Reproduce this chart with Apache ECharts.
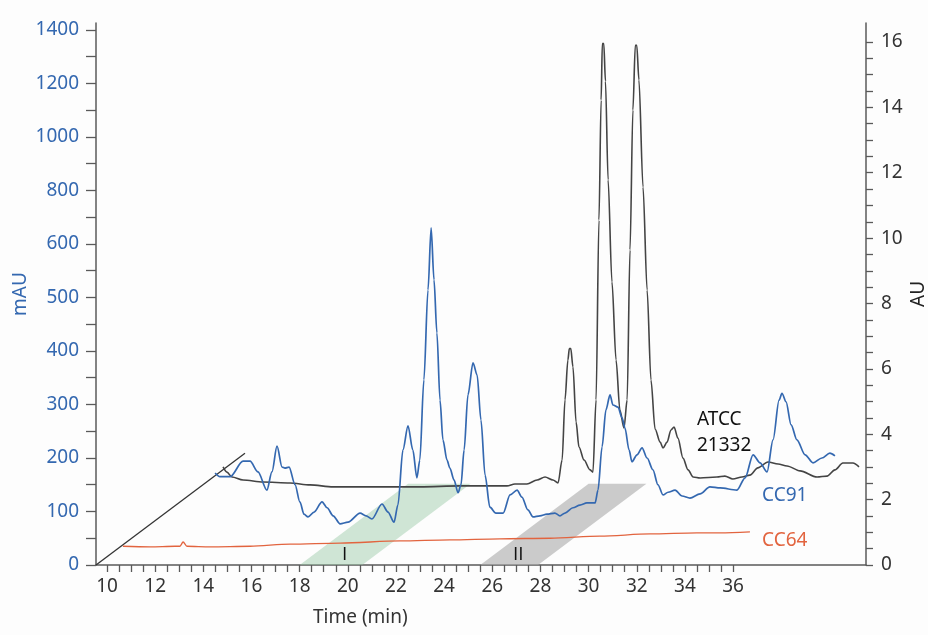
<!DOCTYPE html>
<html lang="en">
<head>
	<meta charset="UTF-8">
	<title>Chromatograms CC64 / CC91 / ATCC 21332</title>
	<script src="https://cdn.jsdelivr.net/npm/echarts@6/dist/echarts.min.js"></script>
	<style>
		html, body { margin: 0; padding: 0; background: #fdfdfd; }
	</style>
</head>
<body>
	<div id="main" style="width: 928px;height:635px;"></div>

	<script>
		// time ticks (min)
		var timeLabels = [10, 12, 14, 16, 18, 20, 22, 24, 26, 28, 30, 32, 34, 36];
		// left axis labels (mAU), axis is compressed 2x above 600
		var mauLabels = [0, 100, 200, 300, 400, 500, 600, 800, 1000, 1200, 1400];
		var auLabels = [0, 2, 4, 6, 8, 10, 12, 14, 16];

		// CC64 trace [time, mAU]
		var cc64 = [[10.66, 35], [11.79, 34], [12.82, 35], [13.03, 35], [13.16, 43], [13.32, 35],
			[14.28, 34], [15.94, 35], [17.6, 39], [19.68, 41], [22.17, 45], [24.24, 47],
			[26.32, 49], [28.4, 50], [30.47, 54], [32.55, 58], [34.5, 60], [35.46, 60], [36.7, 62]];

		// CC91 trace [time, mAU]
		var cc91 = [[14.49, 172], [14.69, 165], [15.11, 165], [15.65, 194], [15.94, 194], [16.27, 174],
			[16.64, 140], [16.85, 174], [17.06, 222], [17.27, 183], [17.39, 181], [17.56, 183],
			[17.81, 150], [18.01, 118], [18.18, 95], [18.35, 90], [18.6, 99], [18.93, 118],
			[19.14, 107], [19.39, 92], [19.68, 77], [20.01, 80], [20.51, 97], [20.76, 92],
			[21.0, 86], [21.42, 114], [21.67, 99], [21.92, 80], [22.08, 112], [22.29, 215],
			[22.5, 260], [22.7, 215], [22.87, 163], [22.99, 196], [23.16, 346], [23.33, 514],
			[23.46, 660], [23.58, 533], [23.7, 434], [23.83, 308], [23.95, 234], [24.12, 196],
			[24.24, 181], [24.41, 159], [24.58, 135], [24.7, 150], [24.83, 215], [24.99, 318],
			[25.2, 378], [25.37, 355], [25.53, 271], [25.7, 168], [25.9, 108], [26.15, 97],
			[26.45, 97], [26.74, 131], [27.03, 140], [27.23, 127], [27.48, 103], [27.69, 90],
			[27.98, 92], [28.27, 95], [28.6, 97], [28.81, 92], [29.02, 97], [29.35, 107],
			[29.64, 112], [29.93, 116], [30.27, 116], [30.39, 140], [30.56, 221], [30.72, 290],
			[30.89, 318], [31.01, 299], [31.22, 295], [31.39, 275], [31.51, 256], [31.68, 215],
			[31.8, 193], [32.01, 206], [32.22, 219], [32.43, 200], [32.67, 178], [32.88, 150],
			[33.09, 131], [33.3, 136], [33.59, 140], [33.88, 129], [34.21, 125], [34.63, 133],
			[35.04, 146], [35.46, 144], [36.16, 140], [36.5, 163], [36.83, 206], [37.12, 191],
			[37.41, 174], [37.66, 234], [37.91, 308], [38.03, 321], [38.2, 305], [38.41, 262],
			[38.65, 234], [38.99, 206], [39.32, 191], [39.69, 200], [40.02, 209], [40.23, 204]];

		// ATCC 21332 trace [time, AU]
		var atcc = [[14.82, 3.0], [14.98, 2.84], [15.19, 2.69], [15.65, 2.6], [16.48, 2.54], [17.6, 2.51],
			[18.43, 2.45], [19.39, 2.39], [21.34, 2.39], [23.0, 2.39], [24.66, 2.42], [26.32, 2.42],
			[26.61, 2.42], [26.94, 2.48], [27.44, 2.48], [27.86, 2.6], [28.19, 2.69], [28.52, 2.6],
			[28.73, 2.51], [28.9, 3.21], [29.02, 5.05], [29.14, 6.27], [29.2, 6.62], [29.26, 6.62],
			[29.35, 6.06], [29.48, 4.37], [29.6, 3.61], [29.81, 3.21], [30.06, 2.91], [30.18, 2.84],
			[30.31, 5.05], [30.43, 10.55], [30.52, 14.22], [30.57, 15.95], [30.63, 15.95], [30.7, 14.8],
			[30.81, 11.78], [30.97, 8.66], [31.14, 6.27], [31.3, 4.74], [31.47, 4.19], [31.6, 5.05],
			[31.72, 9.64], [31.84, 13.92], [31.94, 15.9], [32.0, 15.9], [32.09, 14.84], [32.26, 11.56],
			[32.43, 8.41], [32.59, 5.66], [32.76, 4.16], [32.97, 3.76], [33.09, 3.58], [33.26, 3.76],
			[33.42, 4.13], [33.55, 4.22], [33.71, 3.88], [33.92, 3.27], [34.13, 2.91], [34.34, 2.69],
			[34.63, 2.66], [35.33, 2.69], [35.66, 2.72], [35.99, 2.63], [36.37, 2.69], [36.7, 2.75],
			[37.03, 2.97], [37.45, 3.15], [37.87, 3.09], [38.24, 3.03], [38.78, 2.88], [39.49, 2.69],
			[39.9, 2.72], [40.23, 2.91], [40.56, 3.12], [40.98, 3.12], [41.23, 3.0]];

		// depth guide line [time, mAU]
		var depthLine = [[9.543, 0], [15.73, 209]];
		// shaded fractions I and II: [start, end] of time window at the front
		var fractions = [[18.0, 20.6], [25.5, 27.9]];
		// shift of the back edge: [time, mAU]
		var depthShift = [4.5, 152];

		var FONT = "'Noto Sans', sans-serif";
		var BLUE = '#3468b0';
		var ORANGE = '#e2643f';
		var AXIS = '#5a5a5a';

		function toDisplay(v) {
			return v <= 600 ? v : 600 + (v - 600) / 2;
		}
		function toReal(d) {
			return Math.round(d <= 600 ? d : 600 + (d - 600) * 2);
		}
		function steps(a, b, s) {
			var out = [];
			for (var v = a; v <= b + 1e-9; v += s) out.push(Math.round(v * 100) / 100);
			return out;
		}
		function label(text, x, y, color, lineHeight, family) {
			return {
				type: 'text', x: x, y: y, z: 10,
				style: { text: text, fontFamily: family || 'Noto Sans', fontSize: 19, fill: color, lineHeight: lineHeight || 24 }
			};
		}

		var mainChart = echarts.init(document.getElementById('main'));

		var option = {
			backgroundColor: '#fdfdfd',
			animation: false,
			grid: { left: 96, right: 62, top: 23, bottom: 70, outerBoundsMode: 'none', containLabel: false },
			xAxis: {
				type: 'value',
				min: 9.543,
				max: 41.52,
				splitLine: { show: false },
				axisLine: { lineStyle: { color: AXIS, width: 1.5 } },
				axisTick: { customValues: steps(10, 36, 0.5), length: 7, lineStyle: { color: AXIS, width: 1.3 } },
				axisLabel: { customValues: timeLabels, color: '#333', fontSize: 19, fontFamily: FONT, margin: 12 }
			},
			yAxis: [
				{
					type: 'value',
					min: 0,
					max: 1013,
					position: 'left',
					name: 'mAU',
					nameLocation: 'middle',
					nameRotate: 90,
					nameGap: 66,
					nameMoveOverlap: false,
					nameTextStyle: { color: BLUE, fontSize: 19, fontFamily: FONT },
					splitLine: { show: false },
					axisLine: { show: true, lineStyle: { color: AXIS, width: 1.5 } },
					axisTick: { show: true, customValues: steps(0, 1000, 50), length: 10, lineStyle: { color: AXIS, width: 1.3 } },
					axisLabel: {
						customValues: mauLabels.map(toDisplay),
						formatter: function (v) { return String(toReal(v)); },
						color: BLUE, fontSize: 19, fontFamily: FONT, margin: 17
					}
				},
				{
					type: 'value',
					min: 0,
					max: 16.58,
					position: 'right',
					name: 'AU',
					nameLocation: 'middle',
					nameRotate: 90,
					nameGap: 43,
					nameMoveOverlap: false,
					nameTextStyle: { color: '#222', fontSize: 19, fontFamily: FONT },
					splitLine: { show: false },
					axisLine: { show: true, lineStyle: { color: AXIS, width: 1.5 } },
					axisTick: { show: true, customValues: steps(0, 16, 0.5), length: 7, lineStyle: { color: AXIS, width: 1.3 } },
					axisLabel: { customValues: auLabels, color: '#333', fontSize: 19, fontFamily: FONT, margin: 15 }
				}
			],
			series: [
				{
					type: 'custom',
					name: 'fractions',
					yAxisIndex: 0,
					z: 1,
					encode: { x: [0, 1], y: 2 },
					data: [
						{ value: [fractions[0][0], fractions[0][1], 0], itemStyle: { color: 'rgba(150, 200, 165, 0.45)' } },
						{ value: [fractions[1][0], fractions[1][1], 0], itemStyle: { color: 'rgba(170, 170, 170, 0.6)' } }
					],
					renderItem: function (params, api) {
						var t0 = api.value(0), t1 = api.value(1);
						var pts = [
							api.coord([t0, 0]),
							api.coord([t1, 0]),
							api.coord([t1 + depthShift[0], depthShift[1]]),
							api.coord([t0 + depthShift[0], depthShift[1]])
						];
						return { type: 'polygon', shape: { points: pts }, style: { fill: api.visual('color') } };
					}
				},
				{
					type: 'line',
					name: 'depth',
					yAxisIndex: 0,
					z: 3,
					showSymbol: false,
					data: depthLine,
					lineStyle: { color: '#333', width: 1.3 }
				},
				{
					type: 'line',
					name: 'CC64',
					yAxisIndex: 0,
					z: 4,
					showSymbol: false,
					smooth: 0.3,
					smoothMonotone: 'x',
					data: cc64.map(function (p) { return [p[0], toDisplay(p[1])]; }),
					lineStyle: { color: ORANGE, width: 1.3 }
				},
				{
					type: 'line',
					name: 'ATCC 21332',
					yAxisIndex: 1,
					z: 4,
					showSymbol: false,
					smooth: 0.3,
					smoothMonotone: 'x',
					data: atcc,
					lineStyle: { color: '#444', width: 1.6 }
				},
				{
					type: 'line',
					name: 'CC91',
					yAxisIndex: 0,
					z: 5,
					showSymbol: false,
					smooth: 0.3,
					smoothMonotone: 'x',
					data: cc91.map(function (p) { return [p[0], toDisplay(p[1])]; }),
					lineStyle: { color: BLUE, width: 1.7 }
				}
			],
			graphic: [
				label('Time (min)', 313, 606, '#333'),
				label('ATCC\n21332', 697, 407, '#111', 26),
				label('CC91', 762, 484, BLUE),
				label('CC64', 762, 529, ORANGE),
				label('I', 342, 543, '#111', 24, 'Open Sans'),
				label('II', 513, 543, '#111', 24, 'Open Sans')
			]
		};

		mainChart.setOption(option);
	</script>
</body>
</html>
